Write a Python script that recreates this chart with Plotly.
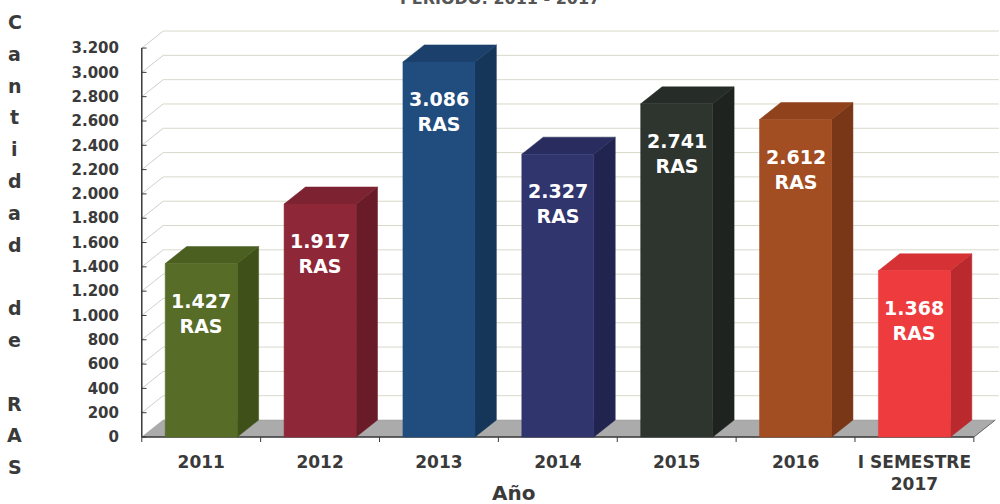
import plotly.graph_objects as go

# ---- data ----
categories = ["2011", "2012", "2013", "2014", "2015", "2016", "I SEMESTRE<br>2017"]
values = [1427, 1917, 3086, 2327, 2741, 2612, 1368]
value_labels = ["1.427", "1.917", "3.086", "2.327", "2.741", "2.612", "1.368"]
ytick_vals = [0, 200, 400, 600, 800, 1000, 1200, 1400, 1600, 1800, 2000,
              2200, 2400, 2600, 2800, 3000, 3200]
ytick_text = ["0", "200", "400", "600", "800", "1.000", "1.200", "1.400", "1.600",
              "1.800", "2.000", "2.200", "2.400", "2.600", "2.800", "3.000", "3.200"]
title_text = "PERIODO: 2011 - 2017"
y_title_letters = ["C", "a", "n", "t", "i", "d", "a", "d", "", "d", "e", "", "R", "A", "S"]
x_title = "Año"

# ---- styles ----
front_colors = ["#566c27", "#8e2838", "#214c7e", "#30356e", "#2e352f", "#a34d22", "#ee3b3d"]
side_colors = ["#3f5119", "#691c28", "#163659", "#21244f", "#1e231f", "#793717", "#b9292d"]
top_colors = ["#4a5f20", "#7c2231", "#1b406b", "#282c5e", "#262c27", "#8f421c", "#d63235"]
FONT = "DejaVu Sans"
HALF = 0.303      # half bar width (category units)
DX = 0.18         # depth offset in x (category units)
DY = 140          # depth offset in y (value units)
n = len(categories)
x_lo, x_hi = -0.5, n - 0.5

fig = go.Figure()

def poly(xs, ys, color, line_color=None):
    fig.add_trace(go.Scatter(x=xs + [xs[0]], y=ys + [ys[0]], mode="lines", fill="toself",
                             fillcolor=color, line=dict(color=line_color or color, width=0.5),
                             hoverinfo="skip", showlegend=False))

def seg(x0, y0, x1, y1, color, width=1.0):
    fig.add_trace(go.Scatter(x=[x0, x1], y=[y0, y1], mode="lines",
                             line=dict(color=color, width=width),
                             hoverinfo="skip", showlegend=False))

# floor
poly([x_lo, x_hi, x_hi + DX, x_lo + DX], [0, 0, DY, DY], "#ababab", "#9a9a9a")

# back wall grid lines and left wall diagonals
for v in ytick_vals[1:]:
    seg(x_lo + DX, v + DY, x_hi + DX + 0.03, v + DY, "#d8d8ca", 1)
    seg(x_lo, v, x_lo + DX, v + DY, "#cfcfcf", 1)

# axis lines
seg(x_lo, 0, x_lo, ytick_vals[-1], "#3a3a3a", 1.5)
seg(x_lo, 0, x_hi, 0, "#3a3a3a", 1.5)
seg(x_hi, 0, x_hi + DX, DY, "#6a6a6a", 1)
for v in ytick_vals:
    seg(x_lo, v, x_lo + 0.04, v, "#3a3a3a", 1)
for k in range(n + 1):
    b = x_lo + k
    seg(b, 0, b, -41, "#3a3a3a", 1)

# 3D bars
for i, v in enumerate(values):
    xl, xr = i - HALF, i + HALF
    poly([xr, xr + DX, xr + DX, xr], [0, DY, v + DY, v], side_colors[i])
    poly([xl, xl + DX, xr + DX, xr], [v, v + DY, v + DY, v], top_colors[i])
    poly([xl, xr, xr, xl], [0, 0, v, v], front_colors[i])
    fig.add_annotation(x=i, y=v, xref="x", yref="y", yanchor="top", yshift=-24,
                       text=f"{value_labels[i]}<br>RAS", showarrow=False,
                       font=dict(family=FONT, size=19, color="white", weight="bold"))

# y title as stacked letters
for k, ch in enumerate(y_title_letters):
    if ch:
        fig.add_annotation(x=15, y=504 - 22 - k * 31.8, xref="paper", yref="paper",
                           text=ch, showarrow=False, xanchor="center", yanchor="middle",
                           font=dict(family=FONT, size=19, color="#3a3a3a", weight="bold"))

# x title
fig.add_annotation(x=513, y=504 - 493, xref="paper", yref="paper", text=x_title,
                   showarrow=False, xanchor="center", yanchor="middle",
                   font=dict(family=FONT, size=20, color="#3a3a3a", weight="bold"))
# top title (cut off at the top edge in the original)
fig.add_annotation(x=500, y=504 - 10, xref="paper", yref="paper", text=title_text,
                   showarrow=False, xanchor="center", yanchor="bottom",
                   font=dict(family=FONT, size=16, color="#555555", weight="bold"))

W, H = 1000, 504
L, R, T, B = 140, 0, 28, 62
fig.update_layout(
    width=W, height=H,
    margin=dict(l=L, r=R, t=T, b=B),
    paper_bgcolor="white", plot_bgcolor="white",
    showlegend=False,
    xaxis=dict(range=[-0.515, 6.72], tickmode="array", tickvals=list(range(n)),
               ticktext=categories, showgrid=False, zeroline=False, showline=False,
               ticks="", ticklabelstandoff=8,
               tickfont=dict(family=FONT, size=17, color="#3a3a3a", weight="bold")),
    yaxis=dict(range=[-41, 3365], tickmode="array", tickvals=ytick_vals,
               ticktext=ytick_text, showgrid=False, zeroline=False, showline=False,
               ticks="", ticklabelstandoff=20,
               tickfont=dict(family=FONT, size=15, color="#3a3a3a", weight="bold")),
)

# convert pixel-based paper annotations into paper coordinates
pw = W - L - R
ph = H - T - B
for a in fig.layout.annotations:
    if a.xref == "paper":
        a.x = (a.x - L) / pw
        a.y = (a.y - B) / ph

fig.write_html("out.html", config={"displayModeBar": False},
               post_script="document.body.style.margin='0';")
